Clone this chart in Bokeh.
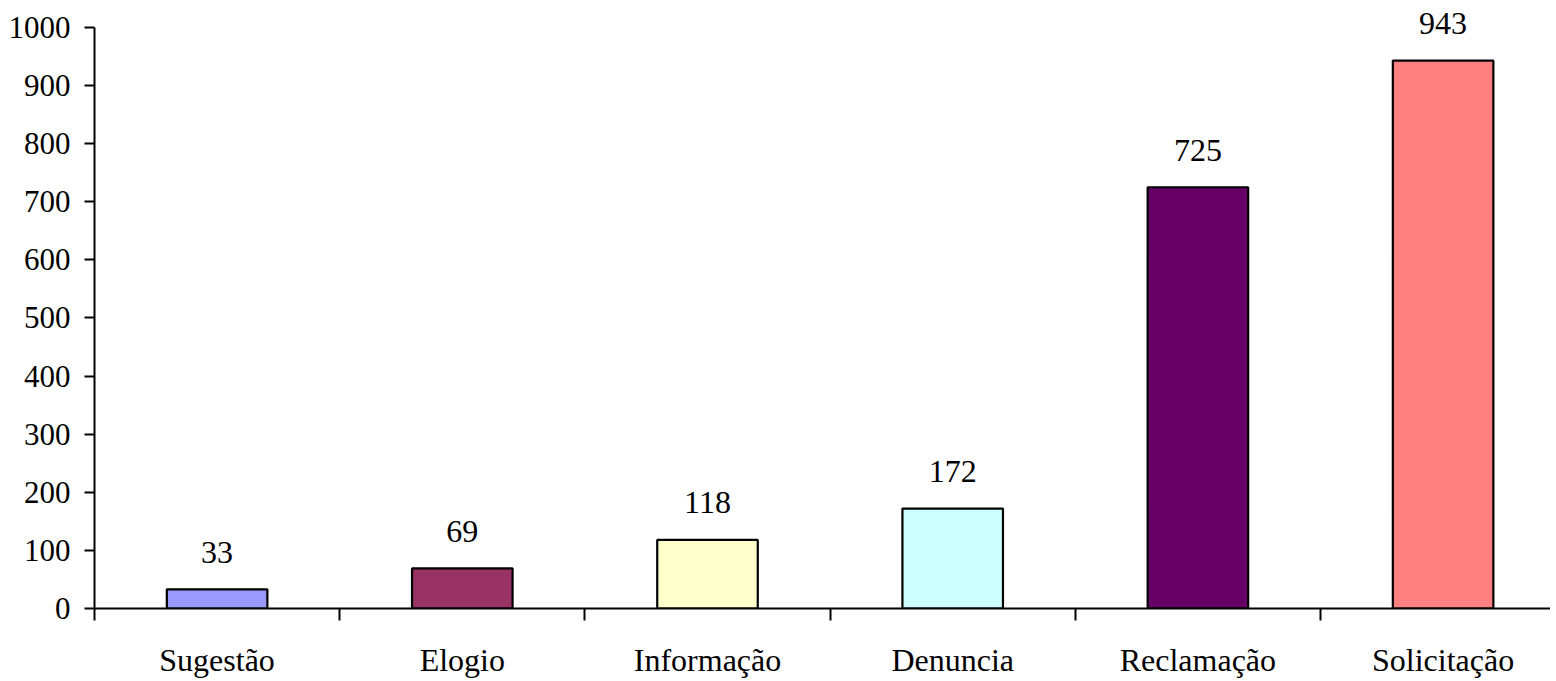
from bokeh.plotting import figure
from bokeh.models import ColumnDataSource, Range1d, FixedTicker
from bokeh.core.properties import value
from bokeh.embed import file_html
from bokeh.resources import INLINE

categories = ["Sugestão", "Elogio", "Informação", "Denuncia", "Reclamação", "Solicitação"]
counts = [33, 69, 118, 172, 725, 943]
colors = ["#9999FF", "#993366", "#FFFFCC", "#CCFFFF", "#660066", "#FF8080"]
y_ticks = [0, 100, 200, 300, 400, 500, 600, 700, 800, 900, 1000]

xs = [i + 0.5 for i in range(len(categories))]
src = ColumnDataSource(dict(x=xs, top=counts, color=colors,
                            label=[str(c) for c in counts]))

FONT = "Liberation Serif"

p = figure(frame_width=1456, frame_height=600,
           x_range=Range1d(0, 5.938), y_range=Range1d(0, 1032.7),
           output_backend="svg", toolbar_location=None,
           min_border_left=94, min_border_right=0, min_border_top=8,
           min_border_bottom=72)
p.outline_line_color = None
p.xgrid.visible = False
p.ygrid.visible = False
p.background_fill_color = "white"
p.border_fill_color = "white"

p.vbar(x="x", top="top", bottom=0, width=0.41, fill_color="color",
       line_color="black", line_width=2.2, source=src)
p.text(x="x", y="top", text="label", source=src, text_align="center",
       text_baseline="alphabetic", y_offset=-37, text_font=value(FONT),
       text_font_size="32px", text_color="black")

# y axis
ya = p.yaxis[0]
ya.ticker = FixedTicker(ticks=y_ticks)
ya.bounds = (0, 1000)
ya.axis_line_width = 2
ya.axis_line_color = "black"
ya.major_tick_out = 10
ya.major_tick_in = 0
ya.major_tick_line_width = 2
ya.minor_tick_out = 0
ya.minor_tick_in = 0
ya.major_label_text_font = FONT
ya.major_label_text_font_size = "31px"
ya.major_label_text_color = "black"
ya.major_label_standoff = 14

# x axis
xa = p.xaxis[0]
xa.ticker = FixedTicker(ticks=xs, minor_ticks=[0, 1, 2, 3, 4, 5, 6])
xa.major_label_overrides = {x: c for x, c in zip(xs, categories)}
xa.axis_line_width = 2
xa.axis_line_color = "black"
xa.major_tick_out = 0
xa.major_tick_in = 0
xa.minor_tick_out = 12
xa.minor_tick_in = 0
xa.minor_tick_line_width = 2
xa.minor_tick_line_color = "black"
xa.major_label_text_font = FONT
xa.major_label_text_font_size = "32px"
xa.major_label_text_color = "black"
xa.major_label_standoff = 21

open("out.html", "w").write(file_html(p, INLINE))
